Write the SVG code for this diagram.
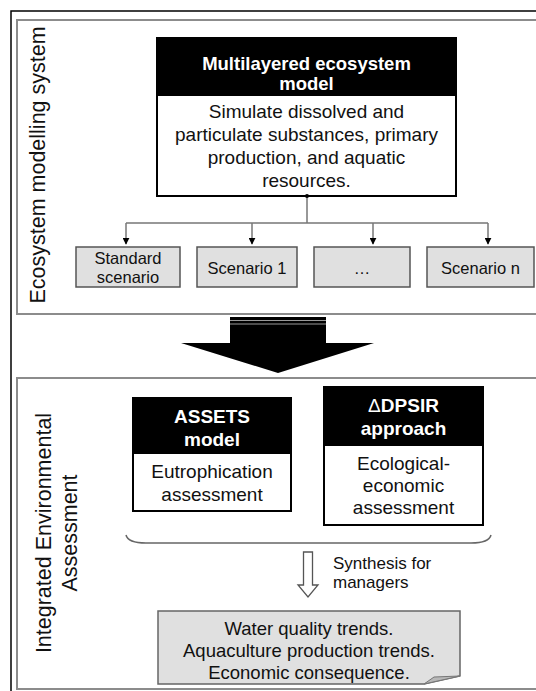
<svg xmlns="http://www.w3.org/2000/svg" width="536" height="691" viewBox="0 0 536 691">
<defs>
<style>
text{font-family:"Liberation Sans",Arial,sans-serif;fill:#111}
.hd{font-weight:bold;fill:#fff;font-size:18.5px;text-anchor:middle}
.bd{font-size:19px;text-anchor:middle}
.sc{font-size:16.5px;text-anchor:middle}
.side{font-size:21.5px;text-anchor:middle}
.panel{fill:none;stroke:#8c8c8c;stroke-width:2}
.box{fill:#fff;stroke:#000;stroke-width:2}
.head{fill:#000}
.scb{fill:#e0e0e0;stroke:#555;stroke-width:1.5}
.con{fill:none;stroke:#777;stroke-width:1.5}
</style>
<marker id="ah" viewBox="0 0 10 10" refX="9" refY="5" markerWidth="7" markerHeight="7" markerUnits="userSpaceOnUse" orient="auto">
<path d="M0,0 L10,5 L0,10 Z" fill="#000"/>
</marker>
</defs>
<rect width="536" height="691" fill="#fff"/>
<path d="M11,691 V11 H536" fill="none" stroke="#000" stroke-width="1.5"/>

<g id="panel-top">
<rect class="panel" x="17" y="20" width="530" height="294"/>
<text class="side" transform="translate(45,165) rotate(-90)">Ecosystem modelling system</text>
</g>
<g id="panel-bottom">
<rect class="panel" x="17" y="378" width="530" height="311"/>
<text class="side" transform="translate(51,533) rotate(-90)">Integrated Environmental</text>
<text class="side" transform="translate(77,533) rotate(-90)">Assessment</text>
</g>

<g id="model">
<rect class="box" x="157" y="38" width="299" height="158"/>
<rect class="head" x="157" y="38" width="299" height="58"/>
<text class="hd" x="306.5" y="70">Multilayered ecosystem</text>
<text class="hd" x="306.5" y="90">model</text>
<text class="bd" x="306.5" y="118">Simulate dissolved and</text>
<text class="bd" x="306.5" y="141">particulate substances, primary</text>
<text class="bd" x="306.5" y="164">production, and aquatic</text>
<text class="bd" x="306.5" y="187">resources.</text>
</g>

<g id="connectors">
<path class="con" d="M307,196 V223 M126,223 H488"/>
<circle cx="307" cy="196" r="2" fill="#000"/>
<path class="con" d="M126,223 V244" marker-end="url(#ah)"/>
<path class="con" d="M252,223 V244" marker-end="url(#ah)"/>
<path class="con" d="M373,223 V244" marker-end="url(#ah)"/>
<path class="con" d="M488,223 V244" marker-end="url(#ah)"/>
<path d="M126,535 Q128,543 146,543 H471 Q489,543 491,535" fill="none" stroke="#666" stroke-width="1.5"/>
<path d="M303.5,552 H312.5 V585 H318 L308,597 L298,585 H303.5 Z" fill="#fff" stroke="#555" stroke-width="1.3"/>
</g>

<g id="standard">
<rect class="scb" x="76" y="247" width="104" height="40"/>
<text class="sc" x="128" y="264">Standard</text>
<text class="sc" x="128" y="283">scenario</text>
</g>
<g id="scenario1">
<rect class="scb" x="197" y="247" width="100" height="40"/>
<text class="sc" x="247" y="274">Scenario 1</text>
</g>
<g id="scenario-dots">
<rect class="scb" x="314" y="247" width="96" height="40"/>
<text class="sc" x="362" y="274">…</text>
</g>
<g id="scenarion">
<rect class="scb" x="427" y="247" width="107" height="40"/>
<text class="sc" x="480.5" y="274">Scenario n</text>
</g>

<g id="big-arrow">
<path d="M230,317 H326 V343 H374 L278,373 L181,343 H230 Z" fill="#000"/>
<path d="M230,320.5 H326 M230,324 H326" stroke="#999" stroke-width="1"/>
</g>

<g id="assets">
<rect class="box" x="133" y="398" width="158" height="113"/>
<rect class="head" x="133" y="398" width="158" height="56"/>
<text class="hd" x="212" y="423" style="font-size:19px">ASSETS</text>
<text class="hd" x="212" y="446" style="font-size:19px">model</text>
<text class="bd" x="212" y="478">Eutrophication</text>
<text class="bd" x="212" y="501">assessment</text>
</g>

<g id="dpsir">
<rect class="box" x="324" y="387" width="159" height="138"/>
<rect class="head" x="324" y="387" width="159" height="59"/>
<text class="hd" x="403.5" y="412" style="font-size:19px"><tspan style="font-weight:normal">Δ</tspan>DPSIR</text>
<text class="hd" x="403.5" y="435" style="font-size:19px">approach</text>
<text class="bd" x="403.5" y="470">Ecological-</text>
<text class="bd" x="403.5" y="492">economic</text>
<text class="bd" x="403.5" y="514">assessment</text>
</g>

<g id="synthesis">
<text x="333" y="569" style="font-size:17px">Synthesis for</text>
<text x="333" y="588" style="font-size:17px">managers</text>
</g>

<g id="outcome">
<path d="M158,611 H460 V676 L424,684 H158 Z" fill="#e0e0e0" stroke="#666" stroke-width="1.5"/>
<path d="M460,676 L424,684 L434,677 Z" fill="#b8b8b8" stroke="#777" stroke-width="1"/>
<text class="bd" x="309" y="635" style="font-size:18.5px">Water quality trends.</text>
<text class="bd" x="309" y="657" style="font-size:18.5px">Aquaculture production trends.</text>
<text class="bd" x="309" y="679" style="font-size:18.5px">Economic consequence.</text>
</g>
</svg>
